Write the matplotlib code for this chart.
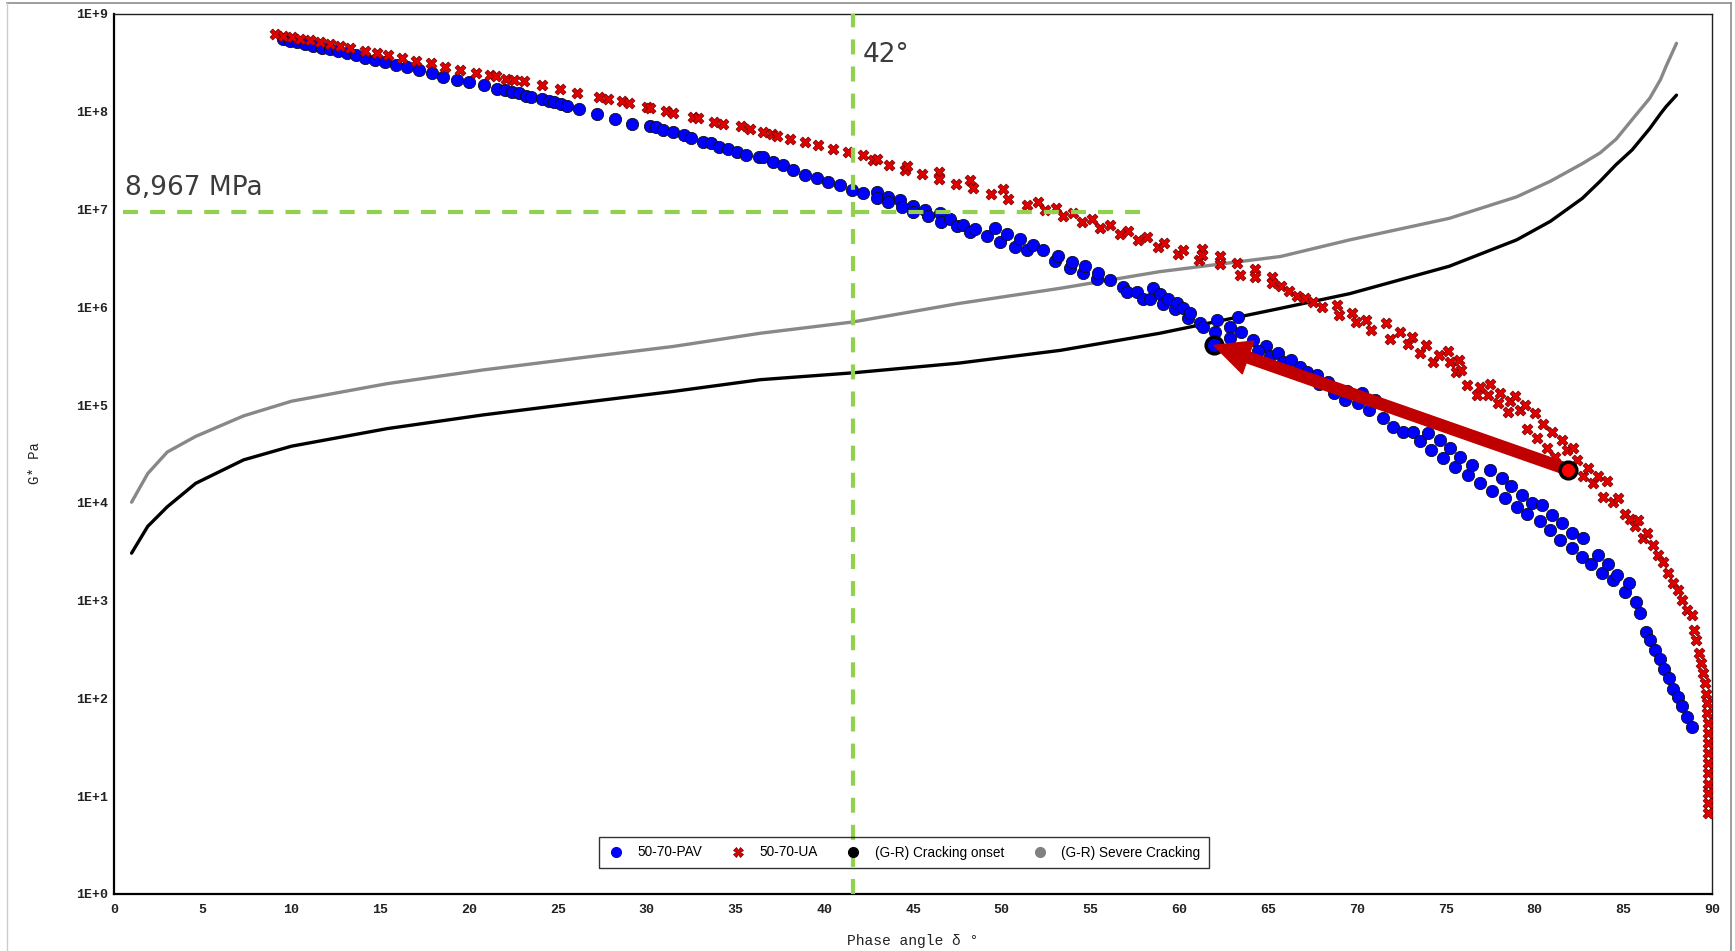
import matplotlib
matplotlib.use('Agg')
import matplotlib.pyplot as plt
import numpy as np
from matplotlib.lines import Line2D
from matplotlib.ticker import FuncFormatter, FixedLocator

# 50-70-PAV: phase angle [deg] and log10(G* [Pa])
pav_delta = [9.54, 9.91, 10.29, 10.76, 11.22, 11.7, 12.17, 12.63, 13.1, 13.63, 14.14, 14.7, 15.26, 15.86,
             16.5, 17.2, 17.9, 18.55, 19.3, 20.0, 20.85, 21.55, 22.0, 22.4, 22.8, 23.2, 23.5, 24.1, 24.5,
             24.8, 25.2, 25.5, 26.2, 27.2, 28.2, 29.2, 30.2, 30.5, 30.9, 31.5, 32.1, 32.5, 33.2, 33.6,
             34.1, 34.6, 35.1, 35.6, 36.3,
             36.57, 37.13, 37.7, 38.26, 38.92, 39.58, 40.23, 40.89, 41.55, 42.2, 42.95, 42.95, 43.6, 43.6,
             44.27, 44.36, 45.0, 45.0, 45.67, 45.86, 46.52, 46.6, 47.08, 47.46, 47.83, 48.21, 48.5, 49.15,
             49.6, 49.9, 50.28, 50.74, 51.03, 51.4, 51.77, 52.34, 53.0, 53.18, 53.84, 53.94, 54.59, 54.69,
             55.34, 55.43, 56.1, 56.84, 57.03, 57.6, 57.97, 58.35, 58.53, 58.9, 59.1, 59.38, 59.75, 59.85,
             60.22, 60.5, 60.6, 61.17, 61.35, 62.1, 62.0, 62.85, 62.85, 63.32, 63.5, 64.17, 64.9, 64.45,
             65.1, 65.57,
             65.84, 66.27, 66.8, 67.2, 67.75, 67.85, 68.38, 68.7, 69.33, 69.44, 70.07, 70.28, 70.7, 71.0,
             71.49, 72.05, 72.6, 73.18, 73.55, 74.02, 74.2, 74.68, 74.87, 75.24, 75.52, 75.8, 76.27, 76.46,
             76.93, 77.5, 77.6, 78.15, 78.34, 78.7, 79.0, 79.28, 79.56, 79.84, 80.31, 80.4, 80.87, 80.97,
             81.43, 81.53, 82.1, 82.1, 82.66, 82.75, 83.2, 83.6, 83.8, 84.17, 84.44, 84.63, 85.1, 85.3,
             85.7, 85.97,
             86.3, 86.5, 86.8, 87.07, 87.3, 87.6, 87.8, 88.1, 88.3, 88.6, 88.85]
pav_log_g = [8.74, 8.72, 8.71, 8.69, 8.676, 8.656, 8.64, 8.62, 8.60, 8.58, 8.555, 8.53, 8.506, 8.48,
             8.46, 8.43, 8.40, 8.36, 8.33, 8.30, 8.27, 8.23, 8.22, 8.20, 8.19, 8.165, 8.155, 8.13, 8.11,
             8.10, 8.08, 8.06, 8.03, 7.975, 7.93, 7.88, 7.85, 7.84, 7.81, 7.79, 7.76, 7.73, 7.69, 7.68,
             7.64, 7.62, 7.59, 7.555, 7.535,
             7.54, 7.49, 7.456, 7.405, 7.35, 7.32, 7.285, 7.25, 7.20, 7.17, 7.18, 7.115, 7.13, 7.08,
             7.10, 7.03, 7.04, 6.98, 7.00, 6.93, 6.96, 6.876, 6.90, 6.83, 6.84, 6.775, 6.80, 6.73,
             6.81, 6.67, 6.745, 6.62, 6.70, 6.59, 6.64, 6.59, 6.47, 6.53, 6.40, 6.46, 6.35, 6.42,
             6.29, 6.35, 6.28, 6.21, 6.16, 6.16, 6.09, 6.09, 6.195, 6.14, 6.03, 6.09, 5.98, 6.04,
             5.99, 5.89, 5.94, 5.84, 5.80, 5.87, 5.75, 5.80, 5.69, 5.905, 5.745, 5.67, 5.605, 5.55,
             5.50, 5.53,
             5.445, 5.46, 5.39, 5.34, 5.31, 5.22, 5.24, 5.12, 5.05, 5.14, 5.02, 5.12, 4.95, 5.05,
             4.865, 4.78, 4.73, 4.73, 4.63, 4.71, 4.54, 4.64, 4.457, 4.56, 4.37, 4.47, 4.29, 4.39,
             4.20, 4.34, 4.12, 4.25, 4.05, 4.17, 3.96, 4.08, 3.89, 4.00, 3.81, 3.98, 3.72, 3.88,
             3.62, 3.79, 3.54, 3.69, 3.45, 3.64, 3.37, 3.47, 3.28, 3.37, 3.21, 3.26, 3.09, 3.18,
             2.99, 2.87,
             2.68, 2.60, 2.50, 2.40, 2.30, 2.21, 2.10, 2.01, 1.92, 1.81, 1.71]

# 50-70-UA
ua_delta = [9.07, 9.54, 10.0, 10.48, 11.04, 11.6, 12.17, 12.73, 13.29, 14.14, 14.8, 15.45, 16.2, 17.0,
            17.84, 18.64, 19.5, 20.4, 21.2, 21.5, 22.1, 22.5, 23.1, 24.1, 25.1, 26.1, 27.3, 27.8, 28.6,
            29.0, 30.0, 30.2, 31.1, 31.5, 32.6, 32.9, 33.8, 34.3, 35.3, 35.8,
            36.57, 37.04, 37.32, 38.07, 38.92, 39.67, 40.5, 41.36, 42.17, 42.77, 42.95, 43.65, 44.55,
            44.64, 45.52, 46.46, 46.46, 47.42, 48.21, 48.4, 49.37, 50.09, 50.37, 51.4, 52.06, 52.43,
            53.05, 53.46, 54.03, 54.5, 55.06, 55.53, 56.1, 56.66, 57.13, 57.69, 58.16, 58.82, 59.13,
            59.94, 60.19, 61.12, 61.26, 61.26, 62.29, 62.29, 63.27, 63.42, 64.26, 64.26, 65.2, 65.2,
            65.7, 66.2, 66.6, 67.1, 67.5,
            68.06, 68.9, 69.0, 69.75, 69.97, 70.5, 70.8, 71.65, 71.86, 72.4, 72.9, 73.1, 73.55, 73.87,
            74.3, 74.6, 75.14, 75.24, 75.56, 75.77, 75.88,
            76.18, 76.93, 76.75, 77.5, 77.4, 78.06, 77.96, 78.62, 78.9, 78.53, 79.18, 79.47, 79.56,
            80.03, 80.12, 80.5, 80.69, 80.97, 81.16, 81.53, 81.81, 82.18, 82.37, 82.75, 83.03, 83.31,
            83.6, 83.87, 84.07, 84.44, 84.72, 85.1, 85.38, 85.66, 85.85, 86.13, 86.32, 86.7, 86.97,
            87.26, 87.54, 87.82, 88.1, 88.3, 88.57, 88.85,
            89.0, 89.1, 89.25, 89.4, 89.5, 89.6, 89.65, 89.7, 89.73, 89.75, 89.77, 89.8, 89.8, 89.8,
            89.8, 89.8, 89.75, 89.75, 89.75]
ua_log_g = [8.80, 8.775, 8.76, 8.745, 8.73, 8.71, 8.69, 8.676, 8.656, 8.625, 8.60, 8.58, 8.555, 8.52,
            8.50, 8.46, 8.43, 8.40, 8.38, 8.37, 8.34, 8.33, 8.31, 8.27, 8.23, 8.195, 8.155, 8.13, 8.11,
            8.09, 8.05, 8.04, 8.01, 7.99, 7.95, 7.94, 7.90, 7.88, 7.85, 7.82,
            7.79, 7.77, 7.756, 7.72, 7.69, 7.66, 7.62, 7.586, 7.56, 7.51, 7.52, 7.456, 7.405,
            7.446, 7.36, 7.38, 7.31, 7.26, 7.30, 7.22, 7.16, 7.21, 7.11, 7.05, 7.08, 7.00,
            7.02, 6.93, 6.96, 6.876, 6.90, 6.815, 6.84, 6.75, 6.78, 6.69, 6.72, 6.62, 6.655,
            6.55, 6.59, 6.485, 6.60, 6.535, 6.525, 6.44, 6.457, 6.33, 6.39, 6.31, 6.31, 6.245,
            6.22, 6.17, 6.12, 6.10, 6.05,
            6.007, 6.025, 5.92, 5.94, 5.855, 5.87, 5.77, 5.84, 5.68, 5.75, 5.63, 5.70, 5.53, 5.615,
            5.445, 5.51, 5.55, 5.445, 5.34, 5.46, 5.36,
            5.21, 5.19, 5.10, 5.22, 5.10, 5.12, 5.02, 5.04, 5.09, 4.93, 4.95, 5.00, 4.76,
            4.92, 4.66, 4.81, 4.56, 4.73, 4.47, 4.64, 4.54, 4.56, 4.44, 4.27, 4.355, 4.20,
            4.27, 4.06, 4.22, 4.01, 4.05, 3.89, 3.84, 3.76, 3.83, 3.64, 3.69, 3.57, 3.47,
            3.40, 3.28, 3.18, 3.11, 3.01, 2.90, 2.855,
            2.70, 2.60, 2.46, 2.36, 2.26, 2.16, 2.05, 1.95, 1.85, 1.75, 1.645, 1.54, 1.44, 1.34,
            1.24, 1.13, 1.03, 0.93, 0.83]

# Glover-Rowe limits
gr_delta = [0.99, 1.9, 3.0, 4.6, 7.3, 10.0, 15.4, 20.8, 26.1, 31.5, 36.4, 41.6, 47.6, 53.3, 58.9,
            65.7, 69.6, 75.2, 79.0, 80.9, 82.7, 83.7, 84.6, 85.5, 86.5, 87.1, 87.4, 88.0]
onset_log_g = [3.486, 3.76, 3.96, 4.20, 4.44, 4.58, 4.76, 4.90, 5.02, 5.14, 5.26, 5.33, 5.43, 5.56, 5.735,
               5.99, 6.14, 6.42, 6.69, 6.88, 7.115, 7.29, 7.46, 7.61, 7.83, 7.98, 8.05, 8.17]
severe_log_g = [4.007, 4.30, 4.52, 4.68, 4.89, 5.04, 5.22, 5.36, 5.48, 5.60, 5.735, 5.85, 6.04, 6.195, 6.365,
                6.52, 6.69, 6.91, 7.13, 7.29, 7.47, 7.58, 7.72, 7.92, 8.14, 8.33, 8.46, 8.70]

# highlighted points and guide lines
pav_mark = (61.95, 5.61)
ua_mark = (81.9, 4.34)
delta_line = 41.6
g_line = 9.4e6
g_line_end = 58.2
y_ticks = [1, 10, 100, 1e3, 1e4, 1e5, 1e6, 1e7, 1e8, 1e9]

fig = plt.figure(figsize=(17.35, 9.51), dpi=100)
ax = fig.add_axes([114 / 1735, 1 - 894 / 951, 1598 / 1735, 880 / 951])

ax.plot(gr_delta, 10 ** np.array(severe_log_g), color='#888888', lw=2.4, zorder=2, solid_capstyle='round',
        solid_joinstyle='round')
ax.plot(gr_delta, 10 ** np.array(onset_log_g), color='black', lw=2.4, zorder=2, solid_capstyle='round',
        solid_joinstyle='round')

ax.scatter(pav_delta, 10 ** np.array(pav_log_g), s=78, c='#0000ff', edgecolors='#101010',
           linewidths=0.6, zorder=3)
ax.scatter(ua_delta, 10 ** np.array(ua_log_g), s=62, marker='X', c='#e00000', edgecolors='#700000',
           linewidths=0.5, zorder=4)

# guide lines
ax.axvline(delta_line, color='#92d050', lw=3, dashes=(3.6, 2.9), zorder=5)
ax.plot([0.5, g_line_end], [g_line, g_line], color='#92d050', lw=3, dashes=(3.6, 2.9), zorder=5)

ax.text(0.62, 10 ** 7.15, '8,967 MPa', fontsize=19, color='#3c3c3c', family='DejaVu Sans',
        va='baseline', ha='left', zorder=6)
ax.text(42.18, 10 ** 8.51, '42°', fontsize=19, color='#3c3c3c', family='DejaVu Sans',
        va='baseline', ha='left', zorder=6)

# arrow between highlighted points
ax.plot(pav_mark[0], 10 ** pav_mark[1], 'o', ms=12, mfc='#0000ff', mec='black', mew=2.5, zorder=7)
ax.annotate('', xy=(pav_mark[0], 10 ** pav_mark[1]), xytext=(ua_mark[0], 10 ** ua_mark[1]),
            arrowprops=dict(arrowstyle='simple,head_length=2.6,head_width=2.5,tail_width=0.8',
                            mutation_scale=10, color='#c00000', shrinkA=0, shrinkB=0), zorder=8)
ax.plot(ua_mark[0], 10 ** ua_mark[1], 'o', ms=12, mfc='#ff0000', mec='black', mew=2.5, zorder=9)

ax.set_yscale('log')
ax.set_xlim(0, 90)
ax.set_ylim(1, 1e9)
ax.xaxis.set_major_locator(FixedLocator(np.arange(0, 91, 5)))
ax.yaxis.set_major_locator(FixedLocator(y_ticks))
ax.yaxis.set_minor_locator(FixedLocator([]))
ax.yaxis.set_major_formatter(FuncFormatter(lambda v, p: f'1E+{int(round(np.log10(v)))}'))
ax.tick_params(length=0, labelsize=9.5, labelcolor='#222222')
ax.tick_params(axis='x', pad=7)
ax.tick_params(axis='y', pad=4)
for lab in ax.get_xticklabels() + ax.get_yticklabels():
    lab.set_family('Liberation Mono')
    lab.set_fontweight('bold')

for side in ['left', 'bottom']:
    ax.spines[side].set_linewidth(1.6)
for side in ['top', 'right']:
    ax.spines[side].set_linewidth(1.0)
    ax.spines[side].set_color('#202020')

ax.set_xlabel('Phase angle δ °', fontsize=10.5, family='Liberation Mono', color='#222222')
ax.set_ylabel('G* Pa', fontsize=10, family='Liberation Mono', color='#222222')
ax.xaxis.set_label_coords(0.5, -0.046)
ax.yaxis.set_label_coords(-0.045, 0.49)

handles = [
    Line2D([], [], marker='o', ls='none', mfc='#0000ff', mec='#0000ff', ms=7),
    Line2D([], [], marker='X', ls='none', mfc='#e00000', mec='#700000', mew=0.5, ms=7),
    Line2D([], [], marker='o', ls='none', mfc='black', mec='black', ms=7),
    Line2D([], [], marker='o', ls='none', mfc='#808080', mec='#808080', ms=7),
]
labels = ['50-70-PAV', '50-70-UA', '(G-R) Cracking onset', '(G-R) Severe Cracking']
leg = fig.legend(handles, labels, loc='center', bbox_to_anchor=(904 / 1735, 1 - 852.5 / 951), ncol=4,
                 frameon=True, fancybox=False, edgecolor='black', facecolor='none',
                 prop={'family': 'Liberation Sans', 'size': 9.8}, handletextpad=1.0,
                 columnspacing=2.0, handlelength=1.2, borderpad=0.6)
leg.get_frame().set_linewidth(1.0)

# outer frame of the picture
fig.add_artist(Line2D([7 / 1735, 1731 / 1735], [1 - 3 / 951, 1 - 3 / 951], color='#8c8c8c', lw=1.2))
fig.add_artist(Line2D([1731 / 1735, 1731 / 1735], [0, 1 - 3 / 951], color='#8c8c8c', lw=1.2))
fig.add_artist(Line2D([7 / 1735, 7 / 1735], [0, 1 - 3 / 951], color='#cccccc', lw=1.0))

fig.savefig('out.png', dpi=100, facecolor='white')
